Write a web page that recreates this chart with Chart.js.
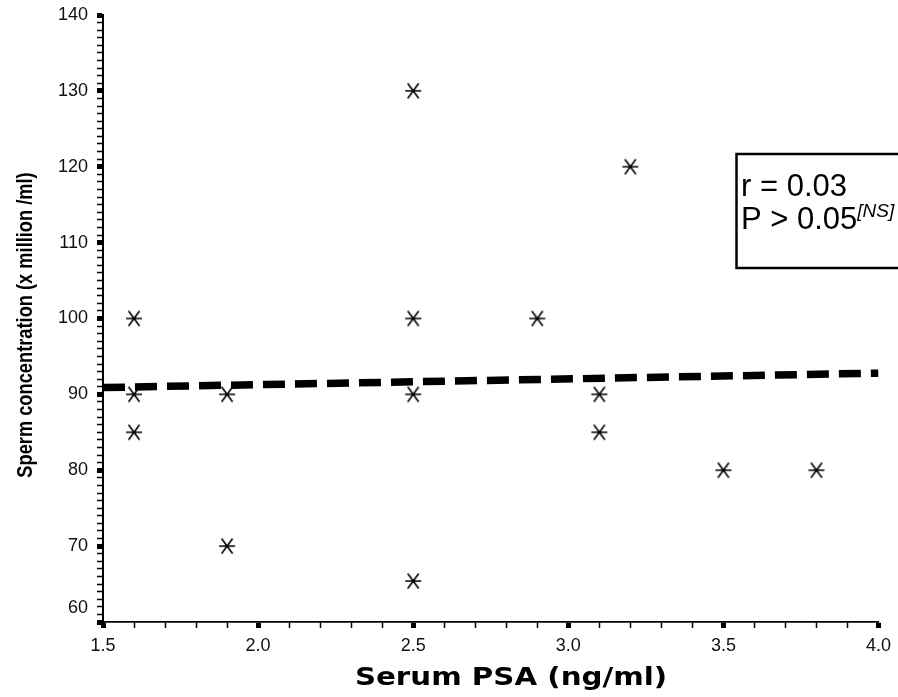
<!DOCTYPE html>
<html>
<head>
<meta charset="utf-8">
<script src="https://cdn.jsdelivr.net/npm/chart.js@4.4.0/dist/chart.umd.min.js"></script>
<style>
  html, body { margin: 0; padding: 0; background: #fff; }
  #wrap { width: 898px; height: 697px; }
</style>
</head>
<body>
<div id="wrap"><canvas id="psaChart"></canvas></div>
<script>
// values
const psaValues   = [1.6, 1.6, 1.6, 1.9, 1.9, 2.5, 2.5, 2.5, 2.5, 2.9, 3.1, 3.1, 3.2, 3.5, 3.8];
const spermValues = [100, 90, 85, 90, 70, 130, 100, 90, 65.4, 100, 90, 85, 120, 80, 80];
// regression line end points
const fitX = [1.5, 4.0];
const fitY = [90.9, 92.8];
// labelled ticks
const xMajorTicks = [1.5, 2.0, 2.5, 3.0, 3.5, 4.0];
const yMajorTicks = [60, 70, 80, 90, 100, 110, 120, 130, 140];
const statLines = ['r = 0.03', 'P > 0.05'];
const statNote = '[NS]';
const xTitle = 'Serum PSA (ng/ml)';
const yTitle = 'Sperm concentration (x million /ml)';

const tickFont = '"Liberation Sans", Arial, sans-serif';

function isMajor(v, list) {
  return list.some(t => Math.abs(t - v) < 1e-6);
}

// six-spoke asterisk marker
function makeAsterisk() {
  const c = document.createElement('canvas');
  c.width = 20; c.height = 18;
  const g = c.getContext('2d');
  g.strokeStyle = '#000';
  g.lineWidth = 1.6;
  g.beginPath();
  g.moveTo(2, 9); g.lineTo(18, 9);
  g.moveTo(4.5, 1.5); g.lineTo(15.5, 16.5);
  g.moveTo(15.5, 1.5); g.lineTo(4.5, 16.5);
  g.stroke();
  return c;
}

const extrasPlugin = {
  id: 'extras',
  afterDraw(chart) {
    const ctx = chart.ctx;
    const ys = chart.scales.y;
    ctx.save();
    ctx.fillStyle = '#111';

    // lowest y label sits a bit higher, clear of the x labels
    ctx.font = '18px ' + tickFont;
    ctx.textAlign = 'right';
    ctx.textBaseline = 'middle';
    ctx.fillText(String(yMajorTicks[0]), 88, ys.getPixelForValue(yMajorTicks[0]) - 14);

    // y title, narrow bold lettering
    ctx.save();
    ctx.translate(26, 325);
    ctx.rotate(-Math.PI / 2);
    ctx.scale(0.83, 1);
    ctx.font = 'bold 22px "Liberation Sans", Arial, sans-serif';
    ctx.textAlign = 'center';
    ctx.textBaseline = 'middle';
    ctx.fillStyle = '#000';
    ctx.fillText(yTitle, 0, 0);
    ctx.restore();

    // x title, wide heavy lettering
    ctx.save();
    ctx.translate(511, 685);
    ctx.scale(1.22, 1);
    ctx.font = 'bold 24px "DejaVu Sans", sans-serif';
    ctx.textAlign = 'center';
    ctx.textBaseline = 'alphabetic';
    ctx.fillStyle = '#000';
    ctx.fillText(xTitle, 0, 0);
    ctx.restore();

    // stats box (runs off the right edge)
    ctx.strokeStyle = '#000';
    ctx.lineWidth = 2.5;
    ctx.strokeRect(736.5, 154, 220, 114);
    ctx.fillStyle = '#000';
    ctx.textAlign = 'left';
    ctx.textBaseline = 'alphabetic';
    ctx.font = '31px ' + tickFont;
    ctx.fillText(statLines[0], 741, 196);
    ctx.fillText(statLines[1], 741, 229);
    const w = ctx.measureText(statLines[1]).width;
    ctx.font = 'italic 19px ' + tickFont;
    ctx.fillText(statNote, 741 + w, 217);
    ctx.restore();
  }
};

const ctx = document.getElementById('psaChart').getContext('2d');
new Chart(ctx, {
  type: 'scatter',
  data: {
    datasets: [
      {
        type: 'line',
        data: fitX.map((x, i) => ({ x: x, y: fitY[i] })),
        borderColor: '#000',
        borderWidth: 7.5,
        borderDash: [22, 10],
        borderCapStyle: 'butt',
        pointRadius: 0,
        fill: false,
        tension: 0
      },
      {
        data: psaValues.map((x, i) => ({ x: x, y: spermValues[i] })),
        pointStyle: makeAsterisk(),
        pointRadius: 9,
        borderColor: '#000',
        backgroundColor: '#000'
      }
    ]
  },
  options: {
    responsive: true,
    maintainAspectRatio: false,
    animation: false,
    layout: { padding: { top: 15, right: 18, left: 0, bottom: 0 } },
    plugins: {
      legend: { display: false },
      tooltip: { enabled: false }
    },
    scales: {
      x: {
        type: 'linear',
        min: 1.5,
        max: 4.0,
        afterFit(scale) { scale.height = 75; },
        border: { display: true, color: '#000', width: 1.8 },
        grid: {
          drawOnChartArea: false,
          drawTicks: true,
          tickLength: 6,
          color: '#000',
          tickWidth: c => isMajor(c.tick.value, xMajorTicks) ? 5 : 1.5
        },
        ticks: {
          stepSize: 0.1,
          autoSkip: false,
          maxRotation: 0,
          padding: 7,
          color: '#111',
          font: { family: tickFont, size: 18 },
          callback: v => isMajor(v, xMajorTicks) ? v.toFixed(1) : ''
        }
      },
      y: {
        type: 'linear',
        min: 60,
        max: 140,
        afterFit(scale) {
          scale.width = 103;
          scale.paddingTop = 0;
          scale.paddingBottom = 0;
        },
        border: { display: true, color: '#000', width: 2 },
        grid: {
          drawOnChartArea: false,
          drawTicks: true,
          tickLength: 6,
          color: '#000',
          tickWidth: c => isMajor(c.tick.value, yMajorTicks) ? 5 : 1.5
        },
        ticks: {
          stepSize: 1,
          autoSkip: false,
          padding: 9,
          color: '#111',
          font: { family: tickFont, size: 18 },
          callback: v => (isMajor(v, yMajorTicks) && v !== yMajorTicks[0]) ? String(v) : ''
        }
      }
    }
  },
  plugins: [extrasPlugin]
});
</script>
</body>
</html>
